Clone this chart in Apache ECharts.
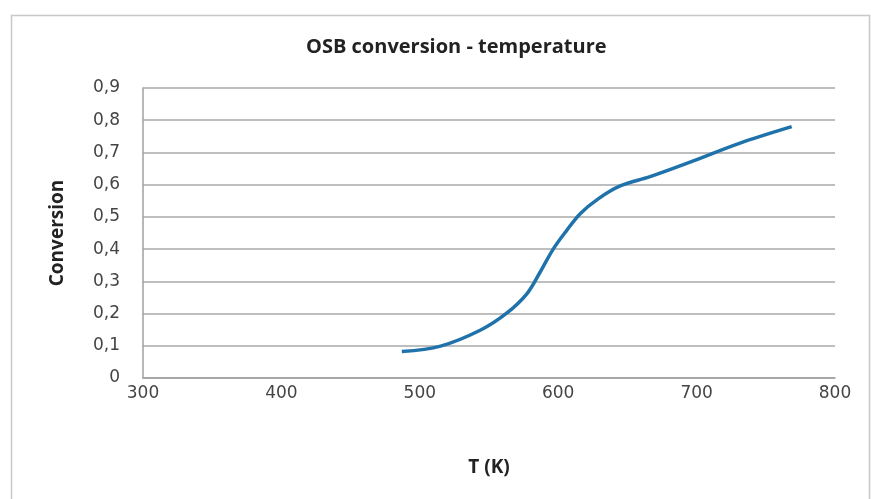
<!DOCTYPE html>
<html>
<head>
<meta charset="utf-8">
<script src="https://cdn.jsdelivr.net/npm/echarts@6/dist/echarts.min.js"></script>
<style>html,body{margin:0;padding:0;background:#fff}#c{width:871px;height:499px}</style>
</head>
<body>
<div id="c"></div>
<script>
var temperatures = [487, 515, 544, 563, 577.5, 587, 596.4, 605.8, 615.9, 628.9, 644.8, 666.4, 695.3, 731.4, 768.7];
var conversions = [0.082, 0.099, 0.149, 0.202, 0.262, 0.329, 0.400, 0.456, 0.510, 0.556, 0.596, 0.625, 0.670, 0.729, 0.780];
var xTicks = [300, 400, 500, 600, 700, 800];
var yTicks = [0, 0.1, 0.2, 0.3, 0.4, 0.5, 0.6, 0.7, 0.8, 0.9];

var data = temperatures.map(function (t, i) { return [t, conversions[i]]; });
var chart = echarts.init(document.getElementById('c'), null, {renderer: 'canvas'});
var font = '"Open Sans", "Noto Sans", sans-serif';
var tickFont = '"DejaVu Sans", sans-serif';
chart.setOption({
  animation: false,
  backgroundColor: '#fff',
  textStyle: {fontFamily: font},
  graphic: [{
    type: 'rect', left: 9, top: 13, shape: {width: 858, height: 490},
    style: {fill: 'none', stroke: '#c8c8c8', lineWidth: 1.5}, silent: true
  }],
  title: {
    text: 'OSB conversion - temperature', left: 301, top: 32,
    textStyle: {fontSize: 20, fontWeight: 'bold', color: '#222', fontFamily: font}
  },
  grid: {left: 143, right: 36, top: 88, bottom: 121},
  xAxis: {
    type: 'value', min: xTicks[0], max: xTicks[xTicks.length - 1], interval: 100,
    name: 'T (K)', nameLocation: 'middle', nameGap: 80,
    nameTextStyle: {fontSize: 19, fontWeight: 'bold', color: '#222'},
    axisLine: {show: true, lineStyle: {color: '#a0a0a0', width: 1.5}},
    axisTick: {show: false},
    splitLine: {show: false},
    axisLabel: {fontSize: 17, color: '#444', margin: 7, fontFamily: tickFont}
  },
  yAxis: {
    type: 'value', min: yTicks[0], max: yTicks[yTicks.length - 1], interval: 0.1,
    name: 'Conversion', nameLocation: 'middle', nameGap: 76, nameRotate: 90,
    nameTextStyle: {fontSize: 19, fontWeight: 'bold', color: '#222'},
    axisLine: {show: true, lineStyle: {color: '#a0a0a0', width: 1.5}},
    axisTick: {show: false},
    splitLine: {show: true, lineStyle: {color: '#a8a8a8', width: 1.5}},
    axisLabel: {fontSize: 17, color: '#444', margin: 23, fontFamily: tickFont,
      formatter: function (v) { return String(Math.round(v * 10) / 10).replace('.', ','); }}
  },
  series: [{
    type: 'line', data: data, smooth: 0.35, showSymbol: false,
    lineStyle: {color: '#1f72aa', width: 3.5}
  }]
});
</script>
</body>
</html>
